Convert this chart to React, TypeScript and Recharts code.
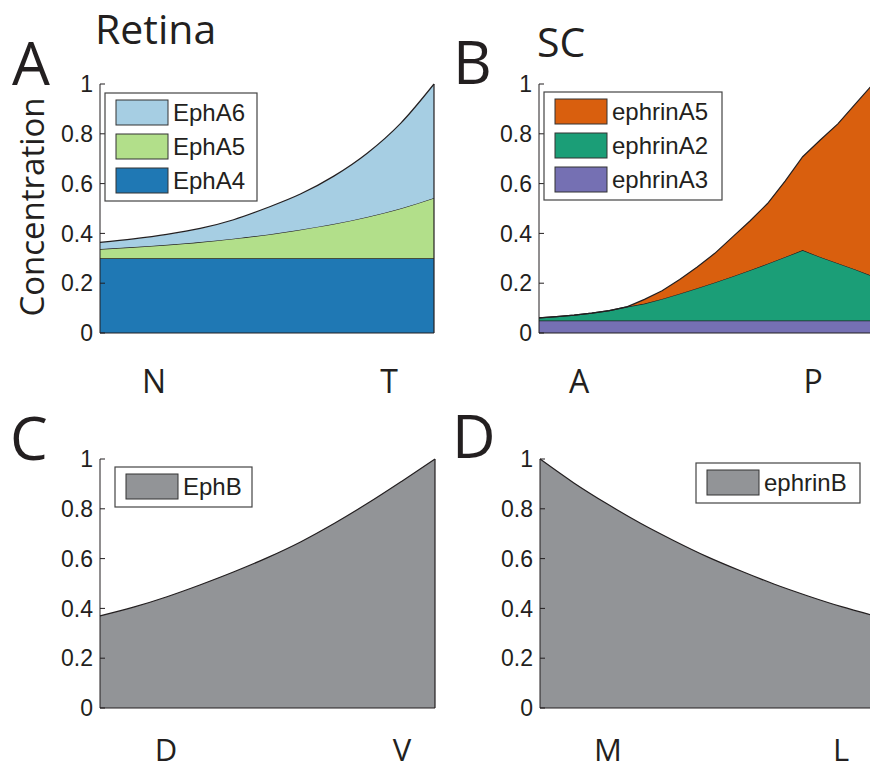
import { AreaChart, Area, XAxis, YAxis, ReferenceLine } from 'recharts'

// Four-panel gradient figure: Eph receptors in retina (A, C) and ephrins in SC (B, D).

const INK = '#231f20'
const TICK_FONT = '"Liberation Sans", Arial, sans-serif'
const LABEL_FONT = '"Open Sans", "Noto Sans", sans-serif'

const yTicks = [0, 0.2, 0.4, 0.6, 0.8, 1]

// A: retina, nasal -> temporal
const retinaPos = [0, 1, 2, 3, 4, 5, 6, 7, 8, 9, 10]
const ephA4 = [0.3, 0.3, 0.3, 0.3, 0.3, 0.3, 0.3, 0.3, 0.3, 0.3, 0.3]
const ephA5 = [0.037, 0.045, 0.054, 0.065, 0.079, 0.095, 0.115, 0.138, 0.166, 0.2, 0.242]
const ephA6 = [0.027, 0.033, 0.042, 0.055, 0.076, 0.108, 0.143, 0.192, 0.256, 0.342, 0.458]

// B: SC, anterior -> posterior
const scPos = [0, 1, 2, 3, 4, 5, 6, 7, 8, 9, 10, 11, 12, 13, 14, 15, 16, 17, 18, 19]
const ephrinA3 = [
  0.05, 0.05, 0.05, 0.05, 0.05, 0.05, 0.05, 0.05, 0.05, 0.05,
  0.05, 0.05, 0.05, 0.05, 0.05, 0.05, 0.05, 0.05, 0.05, 0.05,
]
const ephrinA2 = [
  0.011, 0.016, 0.022, 0.03, 0.04, 0.055, 0.068, 0.087, 0.108, 0.13,
  0.153, 0.177, 0.202, 0.228, 0.255, 0.283, 0.255, 0.23, 0.205, 0.178,
]
const ephrinA5 = [
  0, 0, 0, 0, 0, 0, 0.017, 0.033, 0.057, 0.085,
  0.117, 0.158, 0.198, 0.242, 0.305, 0.375, 0.47, 0.56, 0.665, 0.772,
]

// C: retina, dorsal -> ventral
const dvPos = [0, 1, 2, 3, 4, 5, 6, 7, 8, 9, 10]
const ephB = [0.37, 0.405, 0.447, 0.495, 0.547, 0.604, 0.668, 0.742, 0.823, 0.91, 1.0]

// D: SC, medial -> lateral
const mlPos = [0, 1, 2, 3, 4, 5, 6, 7, 8, 9, 10]
const ephrinB = [1.0, 0.905, 0.82, 0.742, 0.672, 0.607, 0.55, 0.497, 0.45, 0.407, 0.37]

type Series = { key: string; label: string; color: string }

const retinaSeries: Series[] = [
  { key: 'EphA4', label: 'EphA4', color: '#1f78b4' },
  { key: 'EphA5', label: 'EphA5', color: '#b2df8a' },
  { key: 'EphA6', label: 'EphA6', color: '#a6cee3' },
]
const scSeries: Series[] = [
  { key: 'ephrinA3', label: 'ephrinA3', color: '#7570b3' },
  { key: 'ephrinA2', label: 'ephrinA2', color: '#1b9e77' },
  { key: 'ephrinA5', label: 'ephrinA5', color: '#d95f0e' },
]
const dvSeries: Series[] = [{ key: 'EphB', label: 'EphB', color: '#929497' }]
const mlSeries: Series[] = [{ key: 'ephrinB', label: 'ephrinB', color: '#929497' }]

const retinaData = retinaPos.map((pos, i) => ({ pos, EphA4: ephA4[i], EphA5: ephA5[i], EphA6: ephA6[i] }))
const scData = scPos.map((pos, i) => ({
  pos,
  ephrinA3: ephrinA3[i],
  ephrinA2: ephrinA2[i],
  ephrinA5: ephrinA5[i],
}))
const dvData = dvPos.map((pos, i) => ({ pos, EphB: ephB[i] }))
const mlData = mlPos.map((pos, i) => ({ pos, ephrinB: ephrinB[i] }))

function StackPanel({
  left,
  top,
  axisWidth,
  plotWidth,
  data,
  series,
  curve,
}: {
  left: number
  top: number
  axisWidth: number
  plotWidth: number
  data: Record<string, number>[]
  series: Series[]
  curve: 'monotone' | 'linear'
}) {
  const maxX = data[data.length - 1].pos
  const last = data[data.length - 1]
  const total = series.reduce((s, d) => s + last[d.key], 0)
  return (
    <div style={{ position: 'absolute', left, top }}>
      <AreaChart
        width={axisWidth + plotWidth + 6}
        height={400}
        data={data}
        margin={{ top: 84, right: 6, bottom: 67, left: 0 }}
      >
        <XAxis type="number" dataKey="pos" domain={[0, maxX]} hide />
        <YAxis
          domain={[0, 1]}
          ticks={yTicks}
          interval={0}
          width={axisWidth}
          axisLine={{ stroke: INK }}
          tickLine={{ stroke: INK }}
          tickSize={-5}
          tickMargin={12}
          tick={{ fill: INK, fontSize: 23, fontFamily: TICK_FONT }}
        />
        {series.map((s) => (
          <Area
            key={s.key}
            type={curve}
            dataKey={s.key}
            stackId="1"
            stroke={INK}
            strokeWidth={1.2}
            fill={s.color}
            fillOpacity={1}
            isAnimationActive={false}
          />
        ))}
        <ReferenceLine y={0} stroke={INK} strokeWidth={1.2} />
        <ReferenceLine
          segment={[
            { x: maxX, y: 0 },
            { x: maxX, y: total },
          ]}
          stroke={INK}
          strokeWidth={1.2}
        />
      </AreaChart>
    </div>
  )
}

function Legend({
  x,
  y,
  w,
  series,
}: {
  x: number
  y: number
  w: number
  series: Series[]
}) {
  const rowH = 34
  const rows = [...series].reverse()
  const h = rows.length * rowH + 6
  return (
    <g>
      <rect x={x} y={y} width={w} height={h} fill="#fff" stroke="#444" strokeWidth={1.2} />
      {rows.map((s, i) => (
        <g key={s.key}>
          <rect x={x + 11} y={y + 7 + i * rowH} width={52} height={25} fill={s.color} stroke="#333" strokeWidth={1} />
          <text x={x + 68} y={y + 28 + i * rowH} fontSize={24} fontFamily={TICK_FONT} fill={INK}>
            {s.label}
          </text>
        </g>
      ))}
    </g>
  )
}

const big = { fontFamily: LABEL_FONT, fill: INK }

export default function App() {
  return (
    <div
      style={{
        position: 'absolute',
        left: 0,
        top: 0,
        width: 870,
        height: 771,
        overflow: 'hidden',
        background: '#fff',
      }}
    >
      <StackPanel left={0} top={0} axisWidth={100} plotWidth={334} data={retinaData} series={retinaSeries} curve="monotone" />
      <StackPanel left={440} top={0} axisWidth={99} plotWidth={334} data={scData} series={scSeries} curve="linear" />
      <StackPanel left={0} top={375} axisWidth={100} plotWidth={335} data={dvData} series={dvSeries} curve="monotone" />
      <StackPanel left={440} top={375} axisWidth={100} plotWidth={335} data={mlData} series={mlSeries} curve="monotone" />
      <svg
        width={870}
        height={771}
        style={{ position: 'absolute', left: 0, top: 0, pointerEvents: 'none' }}
      >
        <Legend x={105} y={93} w={152} series={retinaSeries} />
        <Legend x={544} y={92} w={178} series={scSeries} />
        <Legend x={115} y={467} w={137} series={dvSeries} />
        <Legend x={696} y={463} w={164} series={mlSeries} />

        <text x={12} y={85} fontSize={60} {...big}>A</text>
        <text x={453} y={84} fontSize={60} {...big}>B</text>
        <text x={10} y={460} fontSize={60} {...big}>C</text>
        <text x={452} y={458} fontSize={60} {...big}>D</text>

        <text x={95} y={44} fontSize={41} {...big}>Retina</text>
        <text x={537} y={57} fontSize={41} {...big}>SC</text>

        <text
          x={44}
          y={207}
          fontSize={33}
          textAnchor="middle"
          transform="rotate(-90 44 207)"
          {...big}
        >
          Concentration
        </text>

        <g fontSize={32} textAnchor="middle" {...big}>
          <text x={154} y={393}>N</text>
          <text x={389} y={393}>T</text>
          <text x={579} y={393}>A</text>
          <text x={813} y={393}>P</text>
        </g>
        <g fontSize={31} textAnchor="middle" {...big}>
          <text x={166} y={761}>D</text>
          <text x={402} y={761}>V</text>
          <text x={608} y={761}>M</text>
          <text x={841} y={761}>L</text>
        </g>
      </svg>
    </div>
  )
}
